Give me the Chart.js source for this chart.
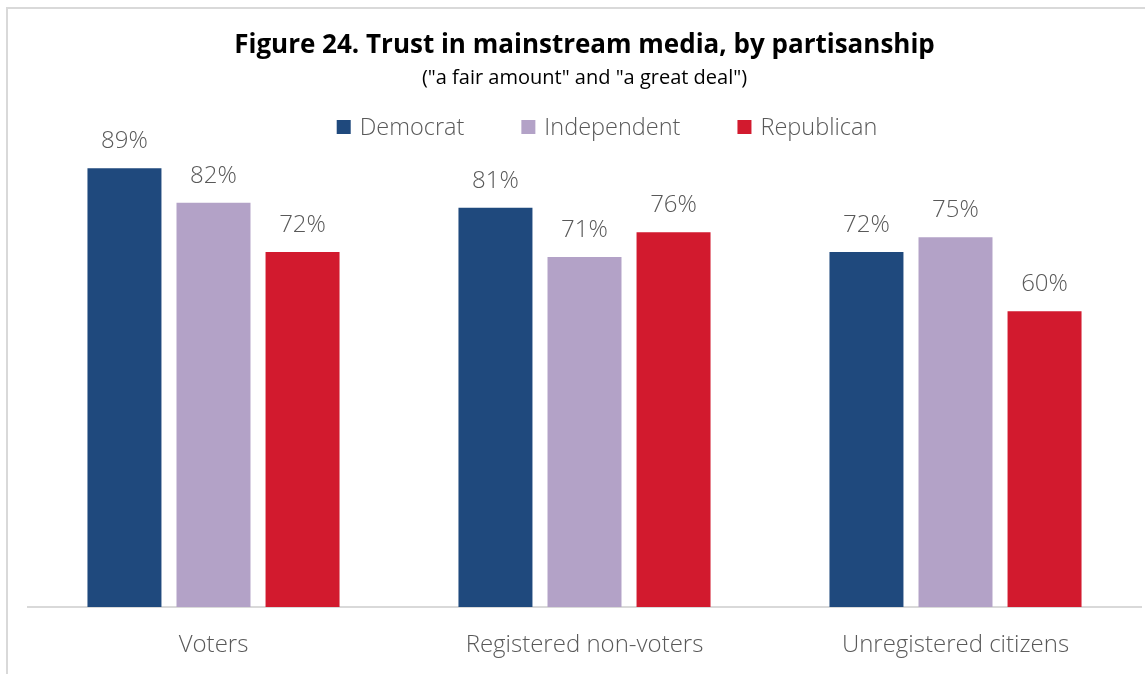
<!DOCTYPE html>
<html lang="en">
<head>
    <meta charset="UTF-8">
    <title>Trust in mainstream media</title>
    <script src="https://cdn.jsdelivr.net/npm/chart.js"></script>
    <style>
        html, body { margin: 0; padding: 0; background: #fff; }
        .chart-container { width: 1145px; height: 674px; }
    </style>
</head>
<body>
    <div class="chart-container">
        <canvas id="trustChart"></canvas>
    </div>

    <script>
        const categories = ['Voters', 'Registered non-voters', 'Unregistered citizens'];
        const democrat = [89, 81, 72];
        const independent = [82, 71, 75];
        const republican = [72, 76, 60];

        const textGrey = '#595959';
        const fontFamily = '"Open Sans", "Noto Sans", sans-serif';

        // light grey frame along the top and left edge
        const framePlugin = {
            id: 'frame',
            beforeDraw(chart) {
                const ctx = chart.ctx;
                ctx.save();
                ctx.fillStyle = '#ffffff';
                ctx.fillRect(0, 0, chart.width, chart.height);
                ctx.strokeStyle = '#d9d9d9';
                ctx.lineWidth = 2;
                ctx.beginPath();
                ctx.moveTo(7, chart.height);
                ctx.lineTo(7, 8);
                ctx.lineTo(chart.width, 8);
                ctx.stroke();
                ctx.restore();
            }
        };

        // legend row: square swatch + label, drawn inside the top of the plot
        const legendRow = {
            id: 'legendRow',
            afterDraw(chart) {
                const ctx = chart.ctx;
                const sets = chart.data.datasets;
                const box = 14, textGap = 9, itemGap = 57, y = 127;
                ctx.save();
                ctx.font = '300 23.5px ' + fontFamily;
                ctx.textBaseline = 'middle';
                ctx.textAlign = 'left';
                let total = 0;
                const widths = sets.map(ds => ctx.measureText(ds.label).width);
                widths.forEach(w => total += box + textGap + w);
                total += itemGap * (sets.length - 1);
                let x = 607 - total / 2;
                sets.forEach((ds, i) => {
                    ctx.fillStyle = ds.backgroundColor;
                    ctx.fillRect(x, y - box / 2, box, box);
                    ctx.fillStyle = textGrey;
                    ctx.fillText(ds.label, x + box + textGap, y + 1);
                    x += box + textGap + widths[i] + itemGap;
                });
                ctx.restore();
            }
        };

        // percentage above each bar
        const barLabels = {
            id: 'barLabels',
            afterDatasetsDraw(chart) {
                const ctx = chart.ctx;
                ctx.save();
                ctx.font = '300 24px ' + fontFamily;
                ctx.fillStyle = textGrey;
                ctx.textAlign = 'center';
                ctx.textBaseline = 'alphabetic';
                chart.data.datasets.forEach((ds, i) => {
                    chart.getDatasetMeta(i).data.forEach((bar, j) => {
                        ctx.fillText(ds.data[j] + '%', bar.x, bar.y - 20);
                    });
                });
                ctx.restore();
            }
        };

        const ctx = document.getElementById('trustChart').getContext('2d');
        const trustChart = new Chart(ctx, {
            type: 'bar',
            data: {
                labels: categories,
                datasets: [
                    { label: 'Democrat', data: democrat, backgroundColor: '#1F497D' },
                    { label: 'Independent', data: independent, backgroundColor: '#B3A2C7' },
                    { label: 'Republican', data: republican, backgroundColor: '#D21A2E' }
                ]
            },
            options: {
                responsive: true,
                maintainAspectRatio: false,
                animation: false,
                categoryPercentage: 0.72,
                barPercentage: 0.831,
                layout: {
                    padding: { left: 28, right: 4, top: 0, bottom: 0 }
                },
                plugins: {
                    legend: { display: false },
                    tooltip: { enabled: false },
                    title: {
                        display: true,
                        text: 'Figure 24. Trust in mainstream media, by partisanship',
                        color: '#000000',
                        font: { family: fontFamily, size: 26, weight: 'bold' },
                        padding: { top: 30, bottom: 5 }
                    },
                    subtitle: {
                        display: true,
                        text: '("a fair amount" and "a great deal")',
                        color: '#000000',
                        font: { family: fontFamily, size: 20 },
                        padding: { top: 0, bottom: 23.8 }
                    }
                },
                scales: {
                    x: {
                        grid: { display: false, drawTicks: false },
                        border: { color: '#d9d9d9', width: 2 },
                        ticks: {
                            color: textGrey,
                            padding: 24,
                            font: { family: fontFamily, size: 24, weight: 300 }
                        },
                        // fixed band under the baseline for the category names
                        afterFit(scale) {
                            scale.height = 67;
                        }
                    },
                    y: {
                        display: false,
                        min: 0,
                        max: 100
                    }
                }
            },
            plugins: [framePlugin, legendRow, barLabels]
        });
    </script>
</body>
</html>
